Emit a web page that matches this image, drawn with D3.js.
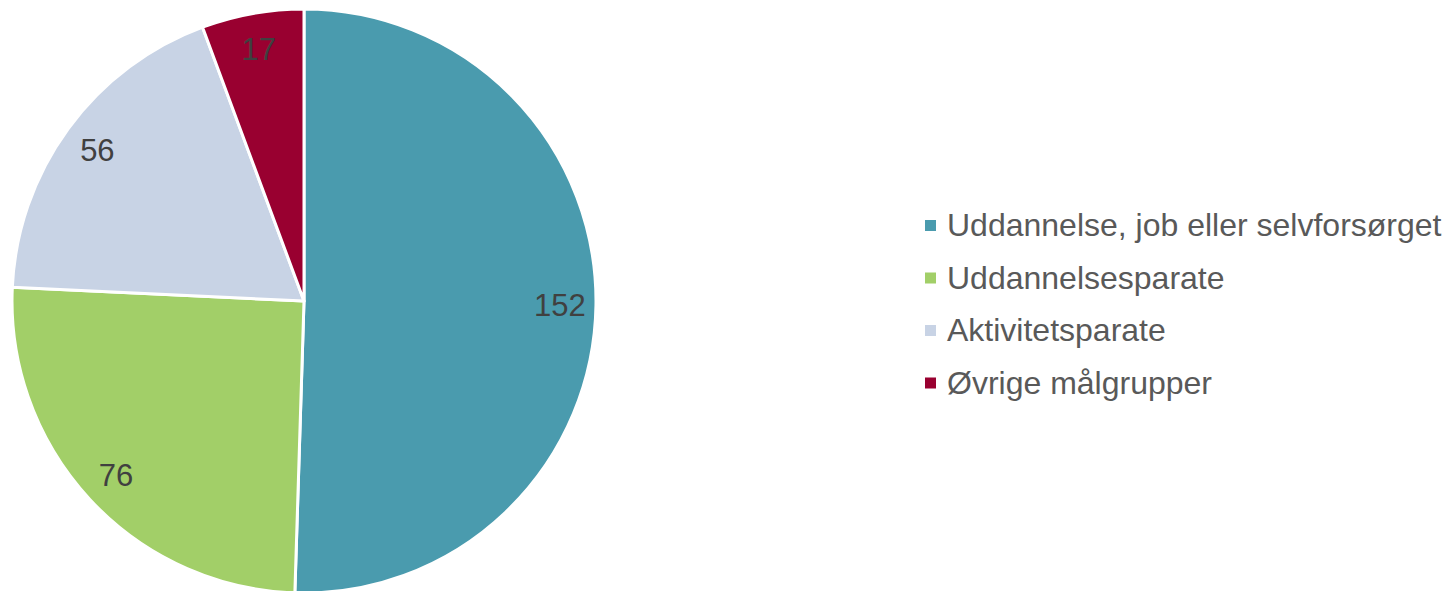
<!DOCTYPE html>
<html>
<head>
<meta charset="utf-8">
<script src="https://cdn.jsdelivr.net/npm/d3@7"></script>
<style>
  body { margin: 0; background: #fff; }
  svg { display: block; font-family: "Liberation Sans", Arial, sans-serif; }
</style>
</head>
<body>
<div id="chart"></div>
<script>
// data
const categories = ["Uddannelse, job eller selvforsørget", "Uddannelsesparate", "Aktivitetsparate", "Øvrige målgrupper"];
const values = [152, 76, 56, 17];
const colors = ["#4A9BAE", "#A2CF68", "#C8D3E5", "#990030"];

const width = 1447, height = 591;
const cx = 304, cy = 301, radius = 292;

const svg = d3.select("#chart")
    .append("svg")
    .attr("width", width)
    .attr("height", height);

const pie = d3.pie().sort(null).value(function (d) { return d; });
const arcs = pie(values);

const arc = d3.arc().innerRadius(0).outerRadius(radius);
const labelArc = d3.arc().innerRadius(256).outerRadius(256);

const g = svg.append("g").attr("transform", `translate(${cx},${cy})`);

g.selectAll(".slice")
    .data(arcs)
    .join("path")
    .attr("class", "slice")
    .attr("d", arc)
    .attr("fill", function (d, i) { return colors[i]; })
    .attr("stroke", "#fff")
    .attr("stroke-width", 3)
    .attr("stroke-linejoin", "round");

g.selectAll(".lbl")
    .data(arcs)
    .join("text")
    .attr("class", "lbl")
    .attr("transform", function (d) { return `translate(${labelArc.centroid(d)})`; })
    .attr("text-anchor", "middle")
    .attr("dy", "0.35em")
    .attr("font-size", 31)
    .attr("fill", "#404040")
    .text(function (d) { return d.data; });

// legend
const legend = svg.append("g").attr("transform", "translate(925,225)");
const rowH = 52.5;

legend.selectAll("rect")
    .data(categories)
    .join("rect")
    .attr("x", 0)
    .attr("y", function (d, i) { return i * rowH - 5; })
    .attr("width", 11)
    .attr("height", 11)
    .attr("fill", function (d, i) { return colors[i]; });

legend.selectAll("text")
    .data(categories)
    .join("text")
    .attr("x", 22)
    .attr("y", function (d, i) { return i * rowH; })
    .attr("dy", "0.35em")
    .attr("font-size", 32)
    .attr("fill", "#595959")
    .text(function (d) { return d; });
</script>
</body>
</html>
